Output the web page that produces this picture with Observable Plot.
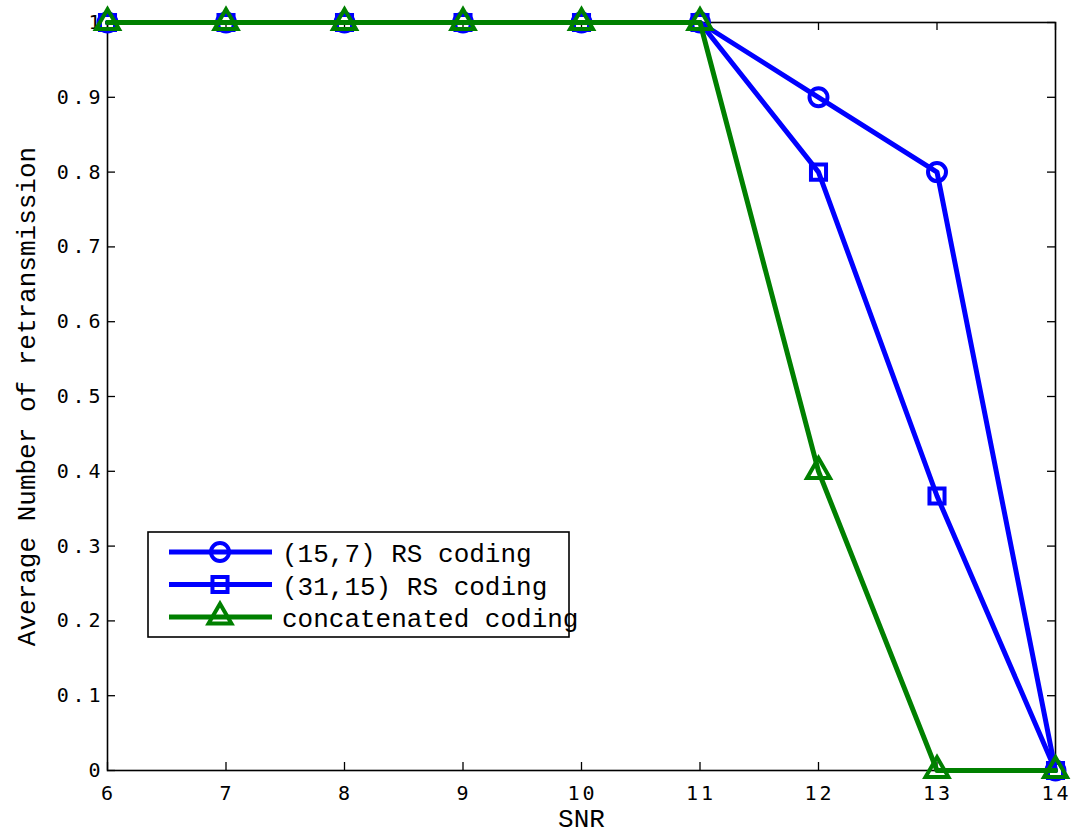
<!DOCTYPE html>
<html><head><meta charset="utf-8">
<script src="https://cdn.jsdelivr.net/npm/d3@7"></script>
<script src="https://cdn.jsdelivr.net/npm/@observablehq/plot@0.6"></script>
<style>
body{margin:0;background:#fff;}
#wrap{position:relative;width:1071px;height:833px;}
#legend{position:absolute;left:0;top:0;pointer-events:none;overflow:visible;}
.chart g[aria-label="x-axis tick label"] text{letter-spacing:3px;}
.chart g[aria-label="y-axis tick label"] text{letter-spacing:3.8px;}
.chart g[aria-label="x-axis label"] text,
.chart g[aria-label="y-axis label"] text{font-family:"Liberation Mono",monospace;font-size:26px;}
</style>
</head><body>
<div id="wrap"></div>
<script>
const snr = [6, 7, 8, 9, 10, 11, 12, 13, 14];
const rs15_7 = [1, 1, 1, 1, 1, 1, 0.9, 0.8, 0];
const rs31_15 = [1, 1, 1, 1, 1, 1, 0.8, 0.367, 0];
const concatenated = [1, 1, 1, 1, 1, 1, 0.4, 0, 0];
const seriesNames = ["(15,7) RS coding", "(31,15) RS coding", "concatenated coding"];
const xTicks = [6, 7, 8, 9, 10, 11, 12, 13, 14];
const yTicks = [0, 0.1, 0.2, 0.3, 0.4, 0.5, 0.6, 0.7, 0.8, 0.9, 1];
const yTickLabels = ["0", "0.1", "0.2", "0.3", "0.4", "0.5", "0.6", "0.7", "0.8", "0.9", "1"];
const xLabel = "SNR";
const yLabel = "Average Number of retransmission";

const W = 1071, H = 833, mL = 107, mT = 22, mR = 16, mB = 63;
const innerW = W - mL - mR, innerH = H - mT - mB;
const blue = "#0000ff", green = "#008000";
const rows = snr.map((x, i) => ({x, a: rs15_7[i], b: rs31_15[i], c: concatenated[i]}));
const tk = {stroke: "#000", strokeWidth: 1.3};

const plot = Plot.plot({
  width: W, height: H, marginLeft: mL, marginTop: mT, marginRight: mR, marginBottom: mB,
  className: "chart",
  style: {background: "#fff", fontFamily: "DejaVu Sans Mono", fontSize: "20px", color: "#000"},
  x: {domain: [6, 14], label: xLabel},
  y: {domain: [0, 1], label: yLabel},
  marks: [
    Plot.frame({stroke: "#000", strokeWidth: 1.6}),
    Plot.ruleY(yTicks, {y: d => d, insetRight: innerW - 8, ...tk}),
    Plot.ruleY(yTicks, {y: d => d, insetLeft: innerW - 8, ...tk}),
    Plot.ruleX(xTicks, {x: d => d, insetTop: innerH - 8, ...tk}),
    Plot.ruleX(xTicks, {x: d => d, insetBottom: innerH - 8, ...tk}),
    Plot.axisX({ticks: xTicks, tickSize: 0, tickPadding: 15, tickFormat: d => String(d), dx: 1,
      label: xLabel, labelAnchor: "center", labelArrow: "none", labelOffset: 56}),
    Plot.axisY({ticks: yTicks, tickSize: 0, tickPadding: 7, tickFormat: d => yTickLabels[yTicks.indexOf(d)], dx: 3.8,
      label: yLabel, labelAnchor: "center", labelArrow: "none", labelOffset: 91}),
    Plot.line(rows, {x: "x", y: "a", stroke: blue, strokeWidth: 5}),
    Plot.dot(rows, {x: "x", y: "a", stroke: blue, strokeWidth: 4, r: 9, symbol: "circle", fill: "none"}),
    Plot.line(rows, {x: "x", y: "b", stroke: blue, strokeWidth: 5}),
    Plot.dot(rows, {x: "x", y: "b", stroke: blue, strokeWidth: 4, r: 8.5, symbol: "square", fill: "none"}),
    Plot.line(rows, {x: "x", y: "c", stroke: green, strokeWidth: 5}),
    Plot.dot(rows, {x: "x", y: "c", stroke: green, strokeWidth: 4, r: 8.5, symbol: "triangle", fill: "none"})
  ]
});
const wrap = document.getElementById("wrap");
wrap.appendChild(plot);

// Legend overlay
const leg = d3.select(wrap).append("svg").attr("id", "legend").attr("width", W).attr("height", H);
leg.append("rect").attr("x", 148).attr("y", 532).attr("width", 421).attr("height", 105)
  .attr("fill", "#fff").attr("stroke", "#000").attr("stroke-width", 1.6);
const legItems = [
  {name: seriesNames[0], color: blue, sym: d3.symbolCircle, r: 9},
  {name: seriesNames[1], color: blue, sym: d3.symbolSquare, r: 8.5},
  {name: seriesNames[2], color: green, sym: d3.symbolTriangle, r: 8.5}
];
legItems.forEach((it, i) => {
  const y = 552 + i * 32.5;
  leg.append("line").attr("x1", 169).attr("x2", 272).attr("y1", y).attr("y2", y)
    .attr("stroke", it.color).attr("stroke-width", 5);
  leg.append("path").attr("d", d3.symbol(it.sym, Math.PI * it.r * it.r)())
    .attr("transform", `translate(220,${y})`).attr("fill", "none")
    .attr("stroke", it.color).attr("stroke-width", 4);
  leg.append("text").attr("x", 282).attr("y", y + 10)
    .attr("font-family", "Liberation Mono, monospace").attr("font-size", 26)
    .attr("fill", "#000").text(it.name);
});
</script>
</body></html>
